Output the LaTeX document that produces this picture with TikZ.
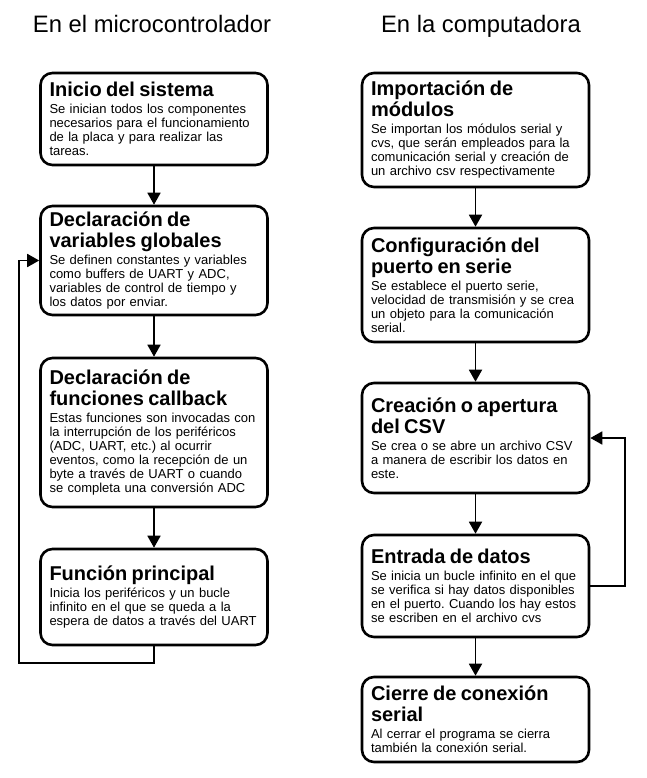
\documentclass[tikz,border=0pt]{standalone}
\usepackage{fontspec}
\setmainfont{Liberation Sans}
\usetikzlibrary{arrows.meta, positioning}
\frenchspacing
\newcommand{\pasotitulo}[1]{{\fontsize{20}{21}\bfseries\selectfont #1\par}\vspace{3pt}}

\begin{document}
\begin{tikzpicture}[
    x=1pt, y=-1pt,
    paso/.style={draw, line width=2.6pt, rounded corners=12pt, align=left,
        text width=209pt, inner xsep=9pt, inner ysep=0pt,
        font=\fontsize{13}{14}\selectfont},
    encabezado/.style={font=\fontsize{23.8}{26}\selectfont, inner sep=0pt, anchor=base},
    flecha/.style={-{Triangle[width=13pt,length=12pt]}, line width=1.8pt}
]
    \useasboundingbox (0,0) rectangle (646,778);

    \node[encabezado] (tmicro) at (152,33) {En el microcontrolador};
    \node[encabezado] (tcompu) at (481,33) {En la computadora};

    % microcontrolador
    \node[paso, minimum height=92pt] (inicio) at (154,119) {\pasotitulo{Inicio del sistema}
        Se inician todos los componentes\\ necesarios para el funcionamiento\\ de la placa y para realizar las\\ tareas.};
    \node[paso, minimum height=109pt] (globales) at (154,260.5) {\pasotitulo{Declaración de\\ variables globales}
        Se definen constantes y variables\\ como buffers de UART y ADC,\\ variables de control de tiempo y\\ los datos por enviar.};
    \node[paso, minimum height=149pt] (callback) at (154,432.5) {\pasotitulo{Declaración de\\ funciones callback}
        Estas funciones son invocadas con\\ la interrupción de los periféricos\\ (ADC, UART, etc.) al ocurrir\\ eventos, como la recepción de un\\ byte a través de UART o cuando\\ se completa una conversión ADC};
    \node[paso, minimum height=96pt] (principal) at (154,597) {\pasotitulo{Función principal}
        Inicia los periféricos y un bucle\\ infinito en el que se queda a la\\ espera de datos a través del UART};

    % computadora
    \node[paso, minimum height=114pt] (modulos) at (475.5,130) {\pasotitulo{Importación de\\ módulos}
        Se importan los módulos serial y\\ cvs, que serán empleados para la\\ comunicación serial y creación de\\ un archivo csv respectivamente};
    \node[paso, minimum height=114pt] (puerto) at (475.5,285) {\pasotitulo{Configuración del\\ puerto en serie}
        Se establece el puerto serie,\\ velocidad de transmisión y se crea\\ un objeto para la comunicación\\ serial.};
    \node[paso, minimum height=110pt] (csv) at (475.5,438) {\pasotitulo{Creación o apertura\\ del CSV}
        Se crea o se abre un archivo CSV\\ a manera de escribir los datos en\\ este.};
    \node[paso, minimum height=102pt] (entrada) at (475.5,586) {\pasotitulo{Entrada de datos}
        Se inicia un bucle infinito en el que\\ se verifica si hay datos disponibles\\ en el puerto. Cuando los hay estos\\ se escriben en el archivo cvs};
    \node[paso, minimum height=85pt] (cierre) at (475.5,719.5) {\pasotitulo{Cierre de conexión\\ serial}
        Al cerrar el programa se cierra\\ también la conexión serial.};

    \coordinate (bucleizq) at (19,663);
    \coordinate (bucleder) at (625,586);

    \draw[flecha] (inicio) -- (globales);
    \draw[flecha] (globales) -- (callback);
    \draw[flecha] (callback) -- (principal);
    \draw[flecha] (principal.south) |- (bucleizq) |- (globales.west);

    \draw[flecha] (modulos) -- (puerto);
    \draw[flecha] (puerto) -- (csv);
    \draw[flecha] (csv) -- (entrada);
    \draw[flecha] (entrada) -- (cierre);
    \draw[flecha] (entrada.east) -- (bucleder) |- (csv.east);
\end{tikzpicture}
\end{document}
